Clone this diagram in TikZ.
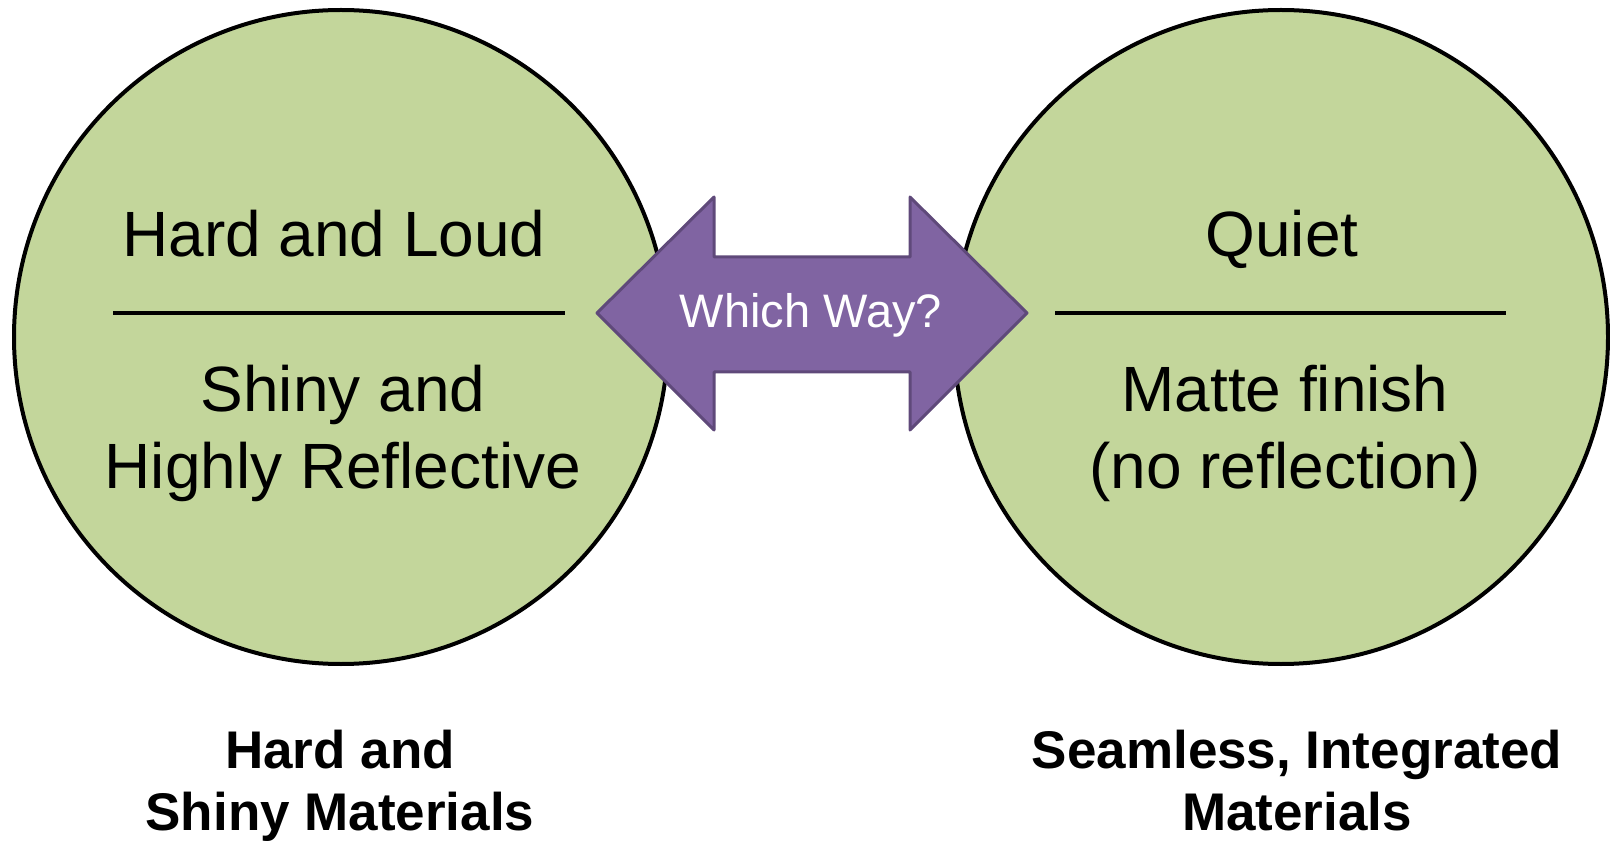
\documentclass[tikz,border=0pt]{standalone}
\usepackage{fontspec}
\setmainfont{Liberation Sans}
\definecolor{circlefill}{HTML}{C3D69B}
\definecolor{arrowfill}{HTML}{8064A2}
\definecolor{arrowedge}{HTML}{5F497A}
\tikzset{
  bubble/.style={circle, draw=black, line width=4pt, fill=circlefill, minimum size=654pt, inner sep=0pt},
  divider/.style={line width=4pt, draw=black},
  bigtext/.style={font=\fontsize{64}{77}\selectfont, align=center, anchor=base, inner sep=0pt},
  captiontext/.style={font=\fontsize{53}{62}\selectfont\bfseries, align=center, anchor=base, inner sep=0pt},
  arrowbody/.style={fill=arrowfill, draw=arrowedge, line width=3pt, line join=round},
  arrowlabel/.style={font=\fontsize{47}{56}\selectfont, text=white, inner sep=0pt}
}
\begin{document}
\begin{tikzpicture}[x=1pt,y=-1pt]
  \useasboundingbox (0,0) rectangle (1610,842);

  % two circles
  \node[bubble] (left) at (341,337) {};
  \node[bubble] (right) at (1281,337) {};

  % left circle contents (base anchor = baseline of the last line)
  \node[bigtext] (lefttop) at (334,257) {Hard and Loud};
  \draw[divider] (113,313) -- (565,313);
  \node[bigtext] (leftbottom) at (343,488) {Shiny and\\Highly Reflective};

  % right circle contents
  \node[bigtext] (righttop) at (1282,257) {Quiet};
  \draw[divider] (1055,313) -- (1506,313);
  \node[bigtext] (rightbottom) at (1285,488) {Matte finish\\(no reflection)};

  % double-headed arrow between the circles
  \draw[arrowbody] (597,313) -- (714,197) -- (714,257) -- (910,257) -- (910,197)
    -- (1027,313) -- (910,430) -- (910,372) -- (714,372) -- (714,430) -- cycle;
  \node[arrowlabel] (which) at (811,315) {Which Way?};

  % captions under the circles
  \node[captiontext] (leftcap) at (340,830) {Hard and\\Shiny Materials};
  \node[captiontext] (rightcap) at (1297,830) {Seamless, Integrated\\Materials};
\end{tikzpicture}
\end{document}
